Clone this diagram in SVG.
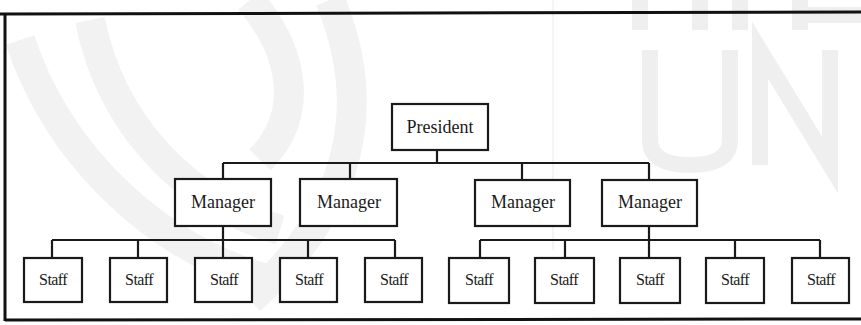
<svg xmlns="http://www.w3.org/2000/svg" width="861" height="325" viewBox="0 0 861 325">
<style>
.box{fill:#fff;stroke:#1a1a1a;stroke-width:2.2}
.lbl{font-family:"Liberation Serif","Times New Roman",serif;fill:#1a1a1a;text-anchor:middle}
.big{font-size:18px}
.sm{font-size:16px;letter-spacing:-0.6px}
.wm{fill:none;stroke:#f2f2f2;stroke-width:30}
#connectors path{fill:none;stroke:#1a1a1a;stroke-width:2.2}
</style>
<rect width="861" height="325" fill="#fff"/>
<g id="watermark">
<path class="wm" d="M20 40 C60 160 160 250 270 280"/>
<path class="wm" d="M90 20 C110 120 180 200 280 230"/>
<path class="wm" d="M250 0 C300 60 300 120 260 160"/>
<path class="wm" d="M330 0 C380 120 340 220 250 300"/>
<path d="M640 30 V0 M700 30 V0 M740 30 V0 M800 30 V0 M800 15 H861" fill="none" stroke="#efefef" stroke-width="16"/>
<path d="M650 50 V140 Q650 165 690 165 Q730 165 730 140 V50 M760 165 V50 L830 165 V50" fill="none" stroke="#efefef" stroke-width="16"/>
<line x1="553" y1="0" x2="553" y2="250" stroke="#e8e8e8" stroke-width="1"/>
</g>
<g id="frame" fill="none" stroke="#111">
<path d="M0 14 L861 12" stroke-width="3"/>
<path d="M5 14 L5 321" stroke-width="3"/>
<path d="M5 320 L861 319" stroke-width="3"/>
</g>
<g id="connectors">
<path d="M437 150 V163"/>
<path d="M223 163 H649"/>
<path d="M223 163 V179 M350 163 V179 M522 163 V180 M649 163 V180"/>
<path d="M223 226 V240 M52 240 H395 M52 240 V258 M138 240 V258 M223 240 V258 M308 240 V258 M395 240 V258"/>
<path d="M649 226 V240 M480 240 H820 M480 240 V258 M565 240 V258 M649 240 V258 M735 240 V258 M820 240 V258"/>
</g>
<g id="president"><rect class="box" x="392" y="104" width="96" height="46"/><text class="lbl big" x="440" y="133">President</text></g>
<g id="manager1"><rect class="box" x="175" y="179" width="96" height="47"/><text class="lbl big" x="223" y="208">Manager</text></g>
<g id="manager2"><rect class="box" x="300" y="179" width="97" height="47"/><text class="lbl big" x="349" y="208">Manager</text></g>
<g id="manager3"><rect class="box" x="475" y="180" width="95" height="46"/><text class="lbl big" x="523" y="208">Manager</text></g>
<g id="manager4"><rect class="box" x="602" y="180" width="95" height="46"/><text class="lbl big" x="650" y="208">Manager</text></g>
<g id="staff1"><rect class="box" x="24" y="258" width="58" height="44"/><text class="lbl sm" x="53" y="285">Staff</text></g>
<g id="staff2"><rect class="box" x="110" y="258" width="57" height="44"/><text class="lbl sm" x="139" y="285">Staff</text></g>
<g id="staff3"><rect class="box" x="195" y="258" width="57" height="44"/><text class="lbl sm" x="224" y="285">Staff</text></g>
<g id="staff4"><rect class="box" x="280" y="258" width="57" height="44"/><text class="lbl sm" x="309" y="285">Staff</text></g>
<g id="staff5"><rect class="box" x="365" y="258" width="57" height="44"/><text class="lbl sm" x="394" y="285">Staff</text></g>
<g id="staff6"><rect class="box" x="449" y="258" width="60" height="45"/><text class="lbl sm" x="479" y="285">Staff</text></g>
<g id="staff7"><rect class="box" x="535" y="258" width="59" height="45"/><text class="lbl sm" x="564" y="285">Staff</text></g>
<g id="staff8"><rect class="box" x="620" y="258" width="60" height="45"/><text class="lbl sm" x="650" y="285">Staff</text></g>
<g id="staff9"><rect class="box" x="706" y="258" width="58" height="45"/><text class="lbl sm" x="735" y="285">Staff</text></g>
<g id="staff10"><rect class="box" x="792" y="258" width="57" height="45"/><text class="lbl sm" x="821" y="285">Staff</text></g>
</svg>
